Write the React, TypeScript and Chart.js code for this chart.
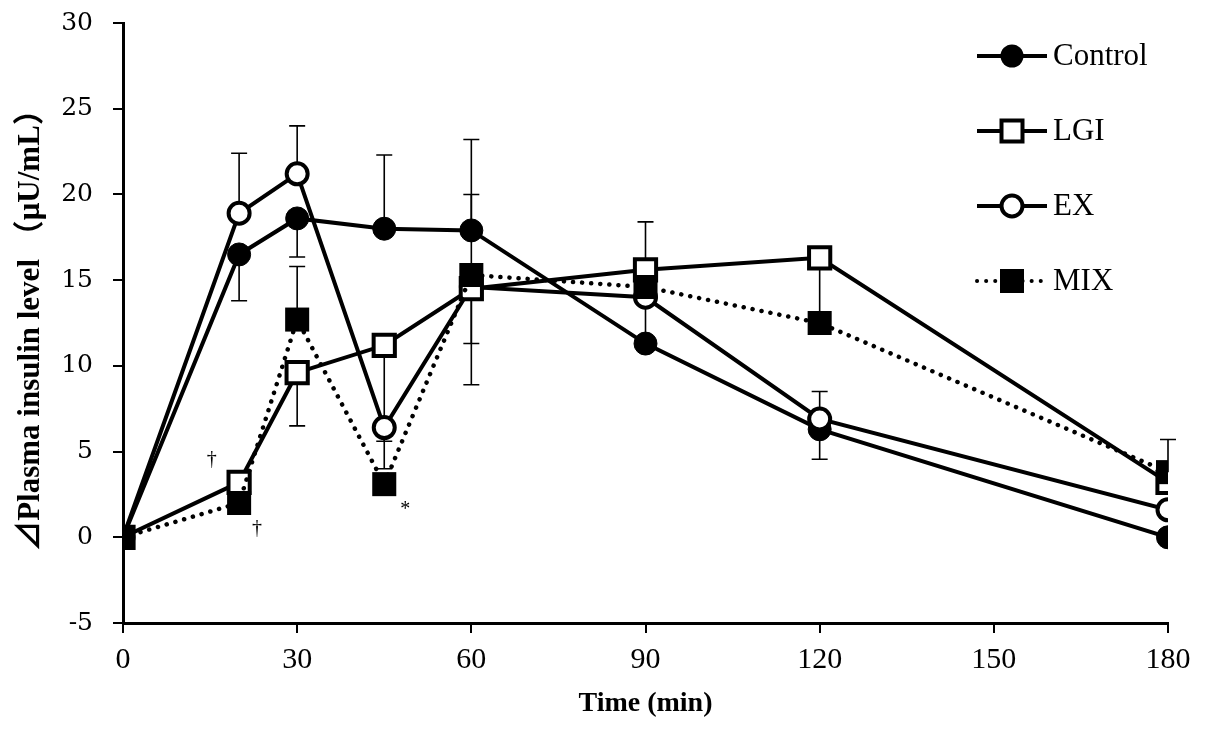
import { useEffect, useRef } from "react";
import { Chart, registerables, type ChartConfiguration, type Plugin } from "chart.js";

Chart.register(...registerables);

const times = [0, 20, 30, 45, 60, 90, 120, 180];

const control = [0, 16.5, 18.6, 18.0, 17.9, 11.3, 6.3, 0];
const lgi = [0, 3.2, 9.6, 11.2, 14.5, 15.6, 16.3, 3.2];
const ex = [0, 18.9, 21.2, 6.4, 14.6, 14.0, 6.9, 1.6];
const mix = [0, 2.0, 12.7, 3.1, 15.3, 14.6, 12.5, 3.8];

// error bar lengths, drawn one way only (0 = none)
const controlUp = [0, 0, 0, 4.3, 5.3, 0, 0, 0];
const controlDown = [0, 2.7, 2.25, 0, 0, 0, 1.75, 0];
const lgiUp = [0, 0, 0, 0, 0, 2.8, 0, 0];
const lgiDown = [0, 0, 3.1, 5.6, 3.2, 0, 3.5, 0];
const exUp = [0, 3.5, 2.8, 0, 0, 0, 1.6, 0];
const exDown = [0, 0, 0, 2.4, 5.7, 2.5, 0, 0];
const mixUp = [0, 0, 3.1, 0, 4.7, 0, 0, 1.9];
const mixDown = [0, 0, 0, 0, 0, 0, 0, 0];

const signs = [
  { text: "†", x: 15.3, y: 4.5 },
  { text: "†", x: 23.1, y: 0.5 },
  { text: "*", x: 48.6, y: 1.6 },
];

const legendItems = [
  { label: "Control", shape: "circle", filled: true, dotted: false },
  { label: "LGI", shape: "rect", filled: false, dotted: false },
  { label: "EX", shape: "circle", filled: false, dotted: false },
  { label: "MIX", shape: "rect", filled: true, dotted: true },
];

const SERIF = "'Liberation Serif', 'Times New Roman', serif";
const WIDE_SERIF = "'DejaVu Serif', serif";
const TITLE_FONT = "'Liberation Serif', 'Noto Sans CJK JP', serif";

const toPoints = (values: number[]) => values.map((y, i) => ({ x: times[i], y }));

const errorBars = [
  { values: control, up: controlUp, down: controlDown },
  { values: lgi, up: lgiUp, down: lgiDown },
  { values: ex, up: exUp, down: exDown },
  { values: mix, up: mixUp, down: mixDown },
];

const errorBarPlugin: Plugin<"line"> = {
  id: "errorBars",
  beforeDatasetsDraw(chart) {
    const { ctx, scales } = chart;
    const xs = scales.x;
    const ys = scales.y;
    ctx.save();
    ctx.strokeStyle = "#000";
    ctx.lineWidth = 1.6;
    for (const bar of errorBars) {
      bar.values.forEach((v, i) => {
        const px = xs.getPixelForValue(times[i]);
        const ends = [];
        if (bar.up[i]) ends.push(v + bar.up[i]);
        if (bar.down[i]) ends.push(v - bar.down[i]);
        for (const end of ends) {
          const y0 = ys.getPixelForValue(v);
          const y1 = ys.getPixelForValue(end);
          ctx.beginPath();
          ctx.moveTo(px, y0);
          ctx.lineTo(px, y1);
          ctx.moveTo(px - 8, y1);
          ctx.lineTo(px + 8, y1);
          ctx.stroke();
        }
      });
    }
    ctx.restore();
  },
};

function drawMarker(ctx: CanvasRenderingContext2D, x: number, y: number, shape: string, filled: boolean) {
  ctx.beginPath();
  if (shape === "circle") {
    ctx.arc(x, y, filled ? 11.5 : 10.5, 0, Math.PI * 2);
  } else {
    const s = filled ? 12 : 10.5;
    ctx.rect(x - s, y - s, s * 2, s * 2);
  }
  ctx.fillStyle = filled ? "#000" : "#fff";
  ctx.fill();
  if (!filled) {
    ctx.lineWidth = 4;
    ctx.strokeStyle = "#000";
    ctx.stroke();
  }
}

const overlayPlugin: Plugin<"line"> = {
  id: "overlay",
  afterDraw(chart) {
    const { ctx, scales } = chart;
    ctx.save();
    // significance marks
    ctx.fillStyle = "#000";
    ctx.font = `20px ${SERIF}`;
    ctx.textAlign = "center";
    ctx.textBaseline = "middle";
    for (const s of signs) {
      ctx.fillText(s.text, scales.x.getPixelForValue(s.x), scales.y.getPixelForValue(s.y));
    }
    // legend
    legendItems.forEach((item, i) => {
      const y = 56 + i * 75;
      ctx.beginPath();
      ctx.strokeStyle = "#000";
      ctx.lineWidth = 4;
      if (item.dotted) {
        ctx.setLineDash([0.1, 9]);
        ctx.lineCap = "round";
      } else {
        ctx.setLineDash([]);
        ctx.lineCap = "butt";
      }
      ctx.moveTo(977, y);
      ctx.lineTo(1047, y);
      ctx.stroke();
      ctx.setLineDash([]);
      drawMarker(ctx, 1012, y, item.shape, item.filled);
      ctx.fillStyle = "#000";
      ctx.font = `31px ${SERIF}`;
      ctx.textAlign = "left";
      ctx.textBaseline = "middle";
      ctx.fillText(item.label, 1053, y + 1);
    });
    ctx.restore();
  },
};

function buildConfig(): ChartConfiguration<"line"> {
  const common = {
    borderColor: "#000",
    borderWidth: 4,
    pointBorderColor: "#000",
    showLine: true,
    fill: false,
    tension: 0,
  };
  return {
    type: "line",
    data: {
      datasets: [
        {
          ...common,
          label: "MIX",
          data: toPoints(mix),
          borderWidth: 4.5,
          borderDash: [0.1, 9],
          borderCapStyle: "round",
          pointStyle: "rect",
          pointRadius: 17,
          pointBackgroundColor: "#000",
          pointBorderWidth: 0,
        },
        {
          ...common,
          label: "LGI",
          data: toPoints(lgi),
          pointStyle: "rect",
          pointRadius: 15,
          pointBackgroundColor: "#fff",
          pointBorderWidth: 4,
        },
        {
          ...common,
          label: "EX",
          data: toPoints(ex),
          pointStyle: "circle",
          pointRadius: 10.5,
          pointBackgroundColor: "#fff",
          pointBorderWidth: 4,
        },
        {
          ...common,
          label: "Control",
          data: toPoints(control),
          pointStyle: "circle",
          pointRadius: 11.5,
          pointBackgroundColor: "#000",
          pointBorderWidth: 1,
        },
      ],
    },
    options: {
      responsive: true,
      maintainAspectRatio: false,
      animation: false,
      layout: { autoPadding: false, padding: { top: 23, right: 37, left: 0, bottom: 0 } },
      plugins: {
        legend: { display: false },
        tooltip: { enabled: false },
      },
      scales: {
        x: {
          type: "linear",
          min: 0,
          max: 180,
          border: { display: true, color: "#000", width: 3 },
          grid: { display: true, drawOnChartArea: false, drawTicks: true, tickLength: 10, color: "#000", lineWidth: 2 },
          ticks: { stepSize: 30, color: "#000", font: { family: SERIF, size: 30 }, padding: 9, maxRotation: 0 },
          title: {
            display: true,
            text: "Time (min)",
            color: "#000",
            font: { family: SERIF, size: 28, weight: "bold" },
            padding: { top: 0, bottom: 11 },
          },
          afterFit(scale) {
            scale.height = 109;
          },
        },
        y: {
          type: "linear",
          min: -5,
          max: 30,
          border: { display: true, color: "#000", width: 3 },
          grid: { display: true, drawOnChartArea: false, drawTicks: true, tickLength: 10, color: "#000", lineWidth: 2 },
          ticks: { stepSize: 5, color: "#000", font: { family: WIDE_SERIF, size: 25 }, padding: 20 },
          title: {
            display: true,
            text: "⊿Plasma insulin level （μU/mL）",
            color: "#000",
            font: { family: TITLE_FONT, size: 31, weight: "bold" },
            padding: { top: 12, bottom: 0 },
          },
          afterFit(scale) {
            scale.width = 123;
            // tick padding would otherwise push the plot area down
            scale.paddingTop = 0;
            scale.paddingBottom = 0;
          },
        },
      },
    },
    plugins: [errorBarPlugin, overlayPlugin],
  };
}

function InsulinChart() {
  const canvasRef = useRef<HTMLCanvasElement>(null);

  useEffect(() => {
    if (!canvasRef.current) {
      return;
    }
    const chart = new Chart(canvasRef.current, buildConfig());
    return () => {
      chart.destroy();
    };
  }, []);

  return <canvas ref={canvasRef} />;
}

export default function App() {
  return (
    <div style={{ position: "fixed", left: 0, top: 0, width: 1205, height: 732, background: "#fff" }}>
      <InsulinChart />
    </div>
  );
}
